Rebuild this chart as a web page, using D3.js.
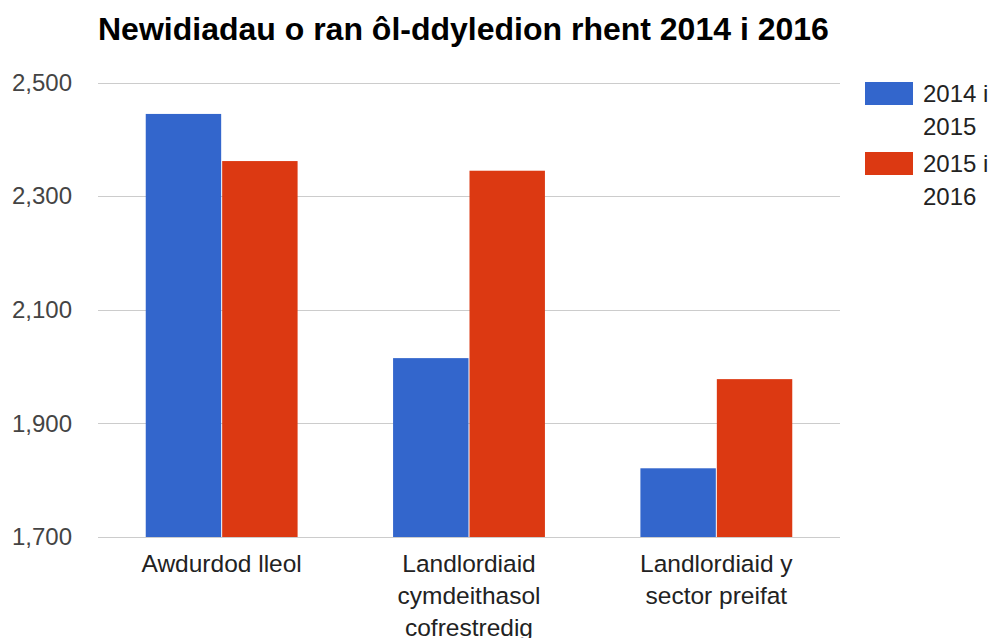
<!DOCTYPE html>
<html><head><meta charset="utf-8">
<script src="https://cdn.jsdelivr.net/npm/d3@7"></script>
<style>body{margin:0;background:#fff;} text{font-family:"Liberation Sans",Arial,sans-serif;}</style>
</head><body>
<svg id="c" width="995" height="638"></svg>
<script>
const title = "Newidiadau o ran ôl-ddyledion rhent 2014 i 2016";
const categories = [["Awdurdod lleol"], ["Landlordiaid", "cymdeithasol", "cofrestredig"], ["Landlordiaid y", "sector preifat"]];
const seriesNames = [["2014 i", "2015"], ["2015 i", "2016"]];
const colors = ["#3366cc", "#dc3912"];
const series2014_2015 = [2445, 2015, 1821];
const series2015_2016 = [2362, 2345, 1978];
const yTicks = [1700, 1900, 2100, 2300, 2500];

const svg = d3.select("#c");
const L = 98, R = 840, T = 82.7, B = 537;
const y = d3.scaleLinear().domain([1700, 2500]).range([B, T]);
const x0 = d3.scaleBand().domain(d3.range(categories.length)).range([L, R]).paddingInner(0.382).paddingOuter(0.191);
const x1 = d3.scaleBand().domain([0, 1]).range([0, x0.bandwidth()]);
const values = [series2014_2015, series2015_2016];

svg.append("text").attr("x", 98).attr("y", 40).attr("font-size", 32).attr("font-weight", "bold").attr("fill", "#000").text(title);

// grid
svg.append("g").selectAll("line").data(yTicks).join("line")
  .attr("x1", L).attr("x2", R).attr("y1", d => Math.round(y(d)) + 0.5).attr("y2", d => Math.round(y(d)) + 0.5)
  .attr("stroke", "#cccccc").attr("stroke-width", 1);

const yAxis = d3.axisLeft(y).tickValues(yTicks).tickFormat(d3.format(",")).tickSize(0).tickPadding(26);
const ga = svg.append("g").attr("transform", `translate(${L},0)`).call(yAxis);
ga.select(".domain").remove();
ga.selectAll("text").attr("font-size", 24).attr("fill", "#444").attr("font-family", "Liberation Sans, Arial, sans-serif");

// bars
values.forEach((vals, s) => {
  svg.append("g").selectAll("rect").data(vals).join("rect")
    .attr("x", (d, i) => x0(i) + x1(s) + 0.5)
    .attr("width", x1.bandwidth() - 1)
    .attr("y", d => y(d))
    .attr("height", d => B - y(d))
    .attr("fill", colors[s]);
});

// baseline
svg.append("line").attr("x1", L).attr("x2", R).attr("y1", B + 0.5).attr("y2", B + 0.5).attr("stroke", "#cccccc");

// x labels
categories.forEach((lines, i) => {
  const t = svg.append("text").attr("x", x0(i) + x0.bandwidth() / 2).attr("y", 572)
    .attr("text-anchor", "middle").attr("font-size", 24.5).attr("fill", "#222");
  lines.forEach((ln, j) => t.append("tspan").attr("x", x0(i) + x0.bandwidth() / 2).attr("y", 572 + j * 32).text(ln));
});

// legend
seriesNames.forEach((lines, s) => {
  const yy = 82 + s * 70;
  svg.append("rect").attr("x", 865).attr("y", yy).attr("width", 48).attr("height", 23).attr("fill", colors[s]);
  const t = svg.append("text").attr("font-size", 24).attr("fill", "#222");
  lines.forEach((ln, j) => t.append("tspan").attr("x", 923).attr("y", yy + 20 + j * 33).text(ln));
});
</script>
</body></html>
